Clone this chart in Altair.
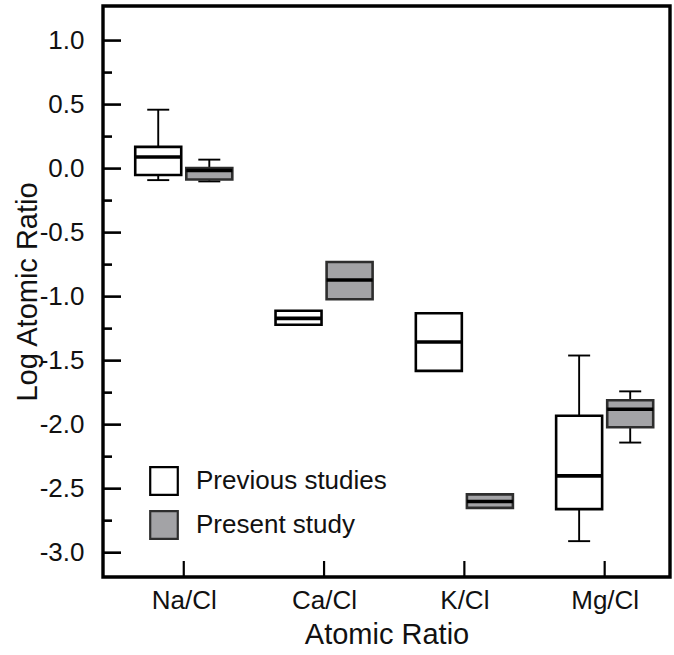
import json
import altair as alt
import pandas as pd

# Log atomic ratios: box statistics for previous studies and the present study
ratios = ["Na/Cl", "Ca/Cl", "K/Cl", "Mg/Cl"]
studies = ["Previous studies", "Present study"]

prev_low = [-0.09, None, None, -2.91]
prev_q1 = [-0.05, -1.22, -1.58, -2.66]
prev_med = [0.09, -1.17, -1.355, -2.40]
prev_q3 = [0.17, -1.11, -1.13, -1.93]
prev_high = [0.46, None, None, -1.46]

pres_low = [-0.10, None, None, -2.14]
pres_q1 = [-0.085, -1.02, -2.65, -2.02]
pres_med = [-0.015, -0.87, -2.60, -1.88]
pres_q3 = [0.005, -0.73, -2.545, -1.81]
pres_high = [0.07, None, None, -1.74]

y_major = [-3.0, -2.5, -2.0, -1.5, -1.0, -0.5, 0.0, 0.5, 1.0]
y_minor = [-2.75, -2.25, -1.75, -1.25, -0.75, -0.25, 0.25, 0.75]

DODGE = 0.182  # half distance between paired boxes, in category units
W, H = 567, 571
FONT = "Liberation Sans"

rows = []
for i, r in enumerate(ratios):
    for study, off, lo, q1, med, q3, hi in [
        (studies[0], -DODGE, prev_low[i], prev_q1[i], prev_med[i], prev_q3[i], prev_high[i]),
        (studies[1], DODGE, pres_low[i], pres_q1[i], pres_med[i], pres_q3[i], pres_high[i]),
    ]:
        rows.append(dict(ratio=r, study=study, pos=i + 1 + off,
                         lo=lo, q1=q1, med=med, q3=q3, hi=hi))
df = pd.DataFrame(rows)
wdf = df.dropna(subset=["lo", "hi"])

xscale = alt.Scale(domain=[0.46, 4.43], nice=False, zero=False)
yscale = alt.Scale(domain=[-3.19, 1.27], nice=False, zero=False)

label_expr = json.dumps(ratios) + "[round(datum.value) - 1]"
xaxis = alt.Axis(values=[1, 2, 3, 4], labelExpr=label_expr, title="Atomic Ratio",
                 labelPadding=10, titlePadding=7)
yaxis = alt.Axis(values=y_major, title="Log Atomic Ratio",
                 labelExpr="replace(format(datum.value, '.1f'), '\u2212', '-')",
                 labelPadding=19, titleX=-61)

base = alt.Chart(df)

whisk_lo = alt.Chart(wdf).mark_rule(color="black", strokeWidth=1.9).encode(
    x=alt.X("pos:Q", scale=xscale, axis=xaxis),
    y=alt.Y("lo:Q", scale=yscale, axis=yaxis), y2="q1:Q")
whisk_hi = alt.Chart(wdf).mark_rule(color="black", strokeWidth=1.9).encode(
    x="pos:Q", y="q3:Q", y2="hi:Q")
cap_lo = alt.Chart(wdf).mark_tick(orient="horizontal", size=22, thickness=1.9,
                                  color="black", opacity=1).encode(x="pos:Q", y="lo:Q")
cap_hi = alt.Chart(wdf).mark_tick(orient="horizontal", size=22, thickness=1.9,
                                  color="black", opacity=1).encode(x="pos:Q", y="hi:Q")

boxes = base.mark_bar(size=46, strokeWidth=2.6, opacity=1).encode(
    x="pos:Q", y="q1:Q", y2="q3:Q",
    color=alt.Color("study:N",
                    scale=alt.Scale(domain=studies, range=["#ffffff", "#a3a3a6"]),
                    legend=alt.Legend(title=None, orient="none", legendX=46, legendY=460,
                                      symbolType="square", symbolSize=760,
                                      symbolStrokeColor="#111111", symbolStrokeWidth=2.2,
                                      symbolOpacity=1, labelFontSize=26, labelFont=FONT,
                                      labelColor="#111111", labelOffset=17, labelLimit=400,
                                      rowPadding=6, padding=0)),
    stroke=alt.Stroke("study:N",
                      scale=alt.Scale(domain=studies, range=["#000000", "#2e2e2e"]),
                      legend=None))

medians = base.mark_tick(orient="horizontal", size=46, thickness=3.6,
                         color="black", opacity=1).encode(x="pos:Q", y="med:Q")

# inward-pointing axis ticks
ymaj = alt.Chart(pd.DataFrame({"v": y_major})).mark_rule(color="black", strokeWidth=2.6).encode(
    y="v:Q", x=alt.value(0), x2=alt.value(18))
ymin = alt.Chart(pd.DataFrame({"v": y_minor})).mark_rule(color="black", strokeWidth=2.6).encode(
    y="v:Q", x=alt.value(0), x2=alt.value(9))
xtk = alt.Chart(pd.DataFrame({"v": [1, 2, 3, 4]})).mark_rule(color="black", strokeWidth=2.2).encode(
    x="v:Q", y=alt.value(H), y2=alt.value(H - 16))

chart = alt.layer(whisk_lo, whisk_hi, cap_lo, cap_hi, boxes, medians, ymaj, ymin, xtk).properties(
    width=W, height=H,
    autosize=alt.AutoSizeParams(type="none"),
    padding={"left": 103, "top": 6, "right": 4, "bottom": 78},
    background="white",
).configure_view(stroke="black", strokeWidth=3.4).configure_axis(
    domain=False, ticks=False, grid=False,
    labelFont=FONT, titleFont=FONT, labelFontSize=26, titleFontSize=29,
    labelColor="#111111", titleColor="#111111", titleFontWeight="normal",
)

chart.save("out.html", embed_options={"renderer": "svg", "actions": False})
